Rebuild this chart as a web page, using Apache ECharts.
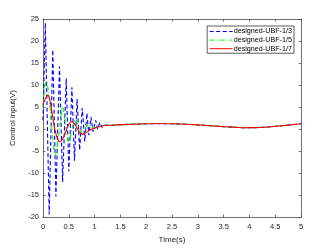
<!DOCTYPE html>
<html><head><meta charset="utf-8">
<script src="https://cdn.jsdelivr.net/npm/echarts@6/dist/echarts.min.js"></script>
<style>html,body{margin:0;padding:0;background:#fff}#c{width:332px;height:249px}</style>
</head><body><div id="c"></div>
<script>
var seriesNames = ['designed-UBF-1/3', 'designed-UBF-1/5', 'designed-UBF-1/7'];
var seriesColors = ['#0000ff', '#00ff00', '#ff0000'];
var xTicks = [0, 0.5, 1, 1.5, 2, 2.5, 3, 3.5, 4, 4.5, 5];
var yTicks = [-20, -15, -10, -5, 0, 5, 10, 15, 20, 25];

var tailT = [1.3, 1.5, 1.75, 2.0, 2.25, 2.5, 2.75, 3.0, 3.25, 3.5, 3.75, 3.9, 4.1, 4.3, 4.5, 4.75, 5.0];
var tailV = [0.85, 1.0, 1.1, 1.2, 1.25, 1.2, 1.1, 0.95, 0.75, 0.55, 0.38, 0.3, 0.32, 0.42, 0.62, 0.9, 1.2];

var blueT = [0, 0.045, 0.12, 0.19, 0.25, 0.32, 0.38, 0.45, 0.50, 0.56, 0.61, 0.66, 0.71, 0.76, 0.81, 0.85, 0.89, 0.93, 0.97, 1.02, 1.06, 1.1, 1.14, 1.2];
var blueV = [2, 24.1, -19.4, 18, -15.3, 14.2, -12.0, 11.5, -9.6, 9.5, -7.2, 6.8, -4.8, 4.8, -2.8, 3.6, -1.4, 2.7, -0.6, 2.0, 0.0, 1.5, 0.4, 0.9];

var greenT = [0, 0.035, 0.065, 0.1, 0.15, 0.24, 0.31, 0.38, 0.44, 0.5, 0.57, 0.63, 0.7, 0.76, 0.82, 0.88, 0.95, 1.0, 1.1, 1.2];
var greenV = [5, 9.5, 10.8, 9, 3, -6.0, -1, 5.0, 1, -3.0, 0.5, 2.2, 0.3, -0.9, 0.2, 1.0, 0.4, 0.3, 0.7, 0.8];

var redT = [0, 0.05, 0.1, 0.15, 0.22, 0.28, 0.33, 0.4, 0.48, 0.55, 0.62, 0.7, 0.77, 0.85, 0.93, 1.0, 1.1, 1.2];
var redV = [5.5, 7.0, 7.7, 5.5, 0.5, -2.2, -2.9, -1.8, 0.6, 1.7, 1.0, -0.6, -1.2, -0.7, -0.1, 0.2, 0.6, 0.8];

function pairs(t, v) {
  var out = [];
  for (var i = 0; i < t.length; i++) out.push([t[i], v[i]]);
  for (var j = 0; j < tailT.length; j++) out.push([tailT[j], tailV[j]]);
  return out;
}

var chart = echarts.init(document.getElementById('c'), null, {renderer: 'canvas'});
var font = 'Liberation Sans, Arial, Helvetica, sans-serif';
var axisCol = '#4d4d4d';
var labelCol = '#262626';
var legendTypes = [[4, 2.5], [5, 2, 1, 2], 'solid'];

chart.setOption({
  animation: false,
  backgroundColor: '#fff',
  grid: {left: 43, right: 31, top: 19, bottom: 28, containLabel: false},
  legend: {
    show: true,
    right: 38, top: 26,
    orient: 'vertical',
    itemWidth: 23, itemHeight: 8, itemGap: 1.6,
    padding: [2, 2, 1, 2],
    backgroundColor: '#fff',
    borderColor: '#333', borderWidth: 0.8,
    itemStyle: {opacity: 0},
    textStyle: {fontFamily: font, fontSize: 7.2, color: '#000', padding: [0, 0, 0, -4]},
    data: seriesNames.map(function (n, i) {
      return {name: n, lineStyle: {color: seriesColors[i], width: 1, type: legendTypes[i]}};
    })
  },
  xAxis: [{
    type: 'value', min: 0, max: 5, interval: 0.5,
    name: 'Time(s)', nameLocation: 'middle', nameGap: 16,
    nameTextStyle: {fontFamily: font, fontSize: 8, color: labelCol},
    axisLine: {show: true, onZero: false, lineStyle: {color: axisCol, width: 0.8}},
    axisTick: {show: true, inside: true, length: 2.5, lineStyle: {color: axisCol, width: 0.8}},
    axisLabel: {fontFamily: font, fontSize: 7.5, color: labelCol, margin: 6,
      formatter: function (v) { return xTicks.indexOf(v) >= 0 ? String(v) : ''; }},
    splitLine: {show: false}
  }, {
    type: 'value', min: 0, max: 5, interval: 0.5, position: 'top',
    axisLine: {show: true, onZero: false, lineStyle: {color: axisCol, width: 0.8}},
    axisTick: {show: true, inside: true, length: 2.5, lineStyle: {color: axisCol, width: 0.8}},
    axisLabel: {show: false}, splitLine: {show: false}
  }],
  yAxis: [{
    type: 'value', min: -20, max: 25, interval: 5,
    name: 'Control input(V)', nameLocation: 'middle', nameGap: 22,
    nameTextStyle: {fontFamily: font, fontSize: 8, color: labelCol},
    axisLine: {show: true, onZero: false, lineStyle: {color: axisCol, width: 0.8}},
    axisTick: {show: true, inside: true, length: 2.5, lineStyle: {color: axisCol, width: 0.8}},
    axisLabel: {fontFamily: font, fontSize: 7.5, color: labelCol, margin: 4,
      formatter: function (v) { return yTicks.indexOf(v) >= 0 ? String(v) : ''; }},
    splitLine: {show: false}
  }, {
    type: 'value', min: -20, max: 25, interval: 5, position: 'right',
    axisLine: {show: true, onZero: false, lineStyle: {color: axisCol, width: 0.8}},
    axisTick: {show: true, inside: true, length: 2.5, lineStyle: {color: axisCol, width: 0.8}},
    axisLabel: {show: false}, splitLine: {show: false}
  }],
  series: [{
    name: seriesNames[0], type: 'line', data: pairs(blueT, blueV),
    symbol: 'none', showSymbol: false, smooth: false,
    lineStyle: {color: seriesColors[0], width: 1.1, type: [4, 2.5]},
    itemStyle: {color: seriesColors[0]}
  }, {
    name: seriesNames[1], type: 'line', data: pairs(greenT, greenV),
    symbol: 'none', showSymbol: false, smooth: 0.3,
    lineStyle: {color: seriesColors[1], width: 1.1, type: [5, 2, 1, 2]},
    itemStyle: {color: seriesColors[1]}
  }, {
    name: seriesNames[2], type: 'line', data: pairs(redT, redV),
    symbol: 'none', showSymbol: false, smooth: 0.3,
    lineStyle: {color: seriesColors[2], width: 1.1, type: 'solid'},
    itemStyle: {color: seriesColors[2]}
  }]
});
</script></body></html>
